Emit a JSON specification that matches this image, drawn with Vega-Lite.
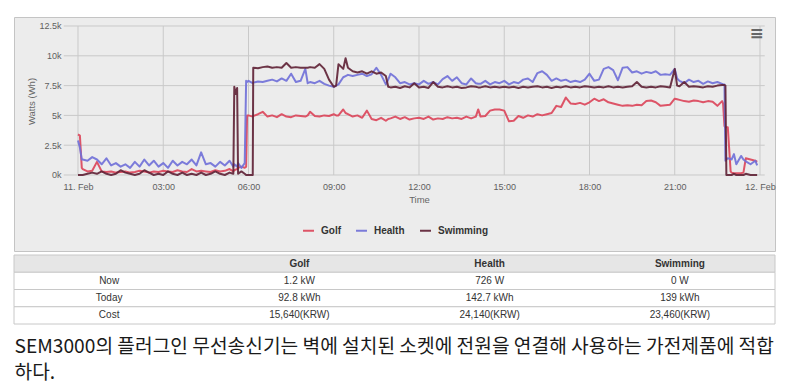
{
 "$schema": "https://vega.github.io/schema/vega-lite/v6.json",
 "background": "#ffffff",
 "padding": {"left": 13, "top": 16, "right": 14, "bottom": 2},
 "spacing": 2,
 "config": {"view": {"stroke": null}, "font": "Liberation Sans"},
 "title": {
  "text": ["SEM3000의 플러그인 무선송신기는 벽에 설치된 소켓에 전원을 연결해 사용하는 가전제품에 적합", "하다."],
  "orient": "bottom", "anchor": "start", "font": "Noto Sans CJK KR", "fontSize": 19.2, "fontWeight": "normal",
  "color": "#1a1a1a", "lineHeight": 26, "offset": 13, "dx": 1
 },
 "vconcat": [
  {
   "width": 761, "height": 234,
   "view": {"fill": "#ececec", "stroke": "#c4c4c4", "strokeWidth": 1},
   "layer": [
    {
     "data": {"values": [{"v": 0}, {"v": 2500}, {"v": 5000}, {"v": 7500}, {"v": 10000}, {"v": 12500}]},
     "mark": {"type": "rule", "color": "#c9c9c9", "strokeWidth": 1},
     "encoding": {
      "y": {"field": "v", "type": "quantitative",
       "scale": {"domain": [-6376, 13255], "nice": false, "zero": false},
       "axis": {"values": [0, 2500, 5000, 7500, 10000, 12500], "labelExpr": "datum.value / 1000 + 'k'",
        "grid": false, "domain": false, "ticks": false, "tickSize": 0, "offset": -47, "labelPadding": 0,
        "labelFontSize": 9, "labelColor": "#606060", "labelOverlap": false, "labelFlush": false,
        "title": "Watts (Wh)", "titleX": -30, "titleY": 84, "titleAngle": 270, "titleAlign": "center",
        "titleBaseline": "middle", "titleFontSize": 9.5, "titleFontWeight": "normal", "titleColor": "#666666"}},
      "x": {"datum": {"year": 2014, "month": "feb", "date": 10, "hours": 23, "minutes": 30}, "type": "temporal",
       "scale": {"domain": [{"year": 2014, "month": "feb", "date": 10, "hours": 21, "minutes": 44, "seconds": 52}, {"year": 2014, "month": "feb", "date": 12, "hours": 0, "minutes": 31, "seconds": 40}], "nice": false}},
      "x2": {"datum": {"year": 2014, "month": "feb", "date": 12, "hours": 0, "minutes": 10}}
     }
    },
    {
     "data": {"values": [{"t": "2014-02-11T00:00"}, {"t": "2014-02-11T03:00"}, {"t": "2014-02-11T06:00"}, {"t": "2014-02-11T09:00"}, {"t": "2014-02-11T12:00"}, {"t": "2014-02-11T15:00"}, {"t": "2014-02-11T18:00"}, {"t": "2014-02-11T21:00"}, {"t": "2014-02-12T00:00"}]},
     "mark": {"type": "rule", "color": "#c9c9c9", "strokeWidth": 1},
     "encoding": {
      "x": {"field": "t", "type": "temporal",
       "scale": {"domain": [{"year": 2014, "month": "feb", "date": 10, "hours": 21, "minutes": 44, "seconds": 52}, {"year": 2014, "month": "feb", "date": 12, "hours": 0, "minutes": 31, "seconds": 40}], "nice": false},
       "axis": {"values": [
         {"year": 2014, "month": "feb", "date": 11, "hours": 0}, {"year": 2014, "month": "feb", "date": 11, "hours": 3},
         {"year": 2014, "month": "feb", "date": 11, "hours": 6}, {"year": 2014, "month": "feb", "date": 11, "hours": 9},
         {"year": 2014, "month": "feb", "date": 11, "hours": 12}, {"year": 2014, "month": "feb", "date": 11, "hours": 15},
         {"year": 2014, "month": "feb", "date": 11, "hours": 18}, {"year": 2014, "month": "feb", "date": 11, "hours": 21},
         {"year": 2014, "month": "feb", "date": 12, "hours": 0}],
        "labelExpr": "hours(datum.value) == 0 ? timeFormat(datum.value, '%-d. %b') : timeFormat(datum.value, '%H:%M')",
        "grid": false, "domain": false, "ticks": false, "tickSize": 0, "offset": -76, "labelPadding": 7,
        "labelFontSize": 9, "labelColor": "#606060", "labelOverlap": false, "labelFlush": false,
        "title": "Time", "titleX": 405, "titleY": 24, "titleAlign": "center", "titleBaseline": "middle",
        "titleFontSize": 9.5, "titleFontWeight": "normal", "titleColor": "#666666"}},
      "y": {"datum": 0, "type": "quantitative", "scale": {"domain": [-6376, 13255], "nice": false, "zero": false}},
      "y2": {"datum": 12500}
     }
    },
    {
     "data": {"values": [
      {"t": "2014-02-11T00:00", "Golf": 3400, "Health": 2900, "Swimming": 0},
      {"t": "2014-02-11T00:04", "Golf": 3300, "Health": 2300, "Swimming": 0},
      {"t": "2014-02-11T00:08", "Golf": 600, "Health": 1300, "Swimming": 0},
      {"t": "2014-02-11T00:10", "Golf": 500, "Health": 1300, "Swimming": 0},
      {"t": "2014-02-11T00:20", "Golf": 300, "Health": 1200, "Swimming": 100},
      {"t": "2014-02-11T00:30", "Golf": 350, "Health": 1500, "Swimming": 200},
      {"t": "2014-02-11T00:40", "Golf": 1100, "Health": 1300, "Swimming": 100},
      {"t": "2014-02-11T00:50", "Golf": 300, "Health": 900, "Swimming": 300},
      {"t": "2014-02-11T01:00", "Golf": 250, "Health": 1400, "Swimming": 100},
      {"t": "2014-02-11T01:10", "Golf": 300, "Health": 800, "Swimming": 0},
      {"t": "2014-02-11T01:20", "Golf": 200, "Health": 1000, "Swimming": 100},
      {"t": "2014-02-11T01:30", "Golf": 250, "Health": 700, "Swimming": 400},
      {"t": "2014-02-11T01:40", "Golf": 300, "Health": 900, "Swimming": 200},
      {"t": "2014-02-11T01:50", "Golf": 200, "Health": 600, "Swimming": 100},
      {"t": "2014-02-11T02:00", "Golf": 250, "Health": 1100, "Swimming": 0},
      {"t": "2014-02-11T02:10", "Golf": 350, "Health": 700, "Swimming": 100},
      {"t": "2014-02-11T02:20", "Golf": 300, "Health": 1300, "Swimming": 400},
      {"t": "2014-02-11T02:30", "Golf": 200, "Health": 800, "Swimming": 200},
      {"t": "2014-02-11T02:40", "Golf": 300, "Health": 1200, "Swimming": 0},
      {"t": "2014-02-11T02:50", "Golf": 250, "Health": 700, "Swimming": 100},
      {"t": "2014-02-11T03:00", "Golf": 350, "Health": 1000, "Swimming": 0},
      {"t": "2014-02-11T03:10", "Golf": 300, "Health": 600, "Swimming": 300},
      {"t": "2014-02-11T03:20", "Golf": 250, "Health": 1200, "Swimming": 100},
      {"t": "2014-02-11T03:30", "Golf": 400, "Health": 800, "Swimming": 0},
      {"t": "2014-02-11T03:40", "Golf": 300, "Health": 1100, "Swimming": 200},
      {"t": "2014-02-11T03:50", "Golf": 250, "Health": 900, "Swimming": 0},
      {"t": "2014-02-11T04:00", "Golf": 500, "Health": 1300, "Swimming": 100},
      {"t": "2014-02-11T04:10", "Golf": 300, "Health": 800, "Swimming": 0},
      {"t": "2014-02-11T04:20", "Golf": 350, "Health": 1900, "Swimming": 200},
      {"t": "2014-02-11T04:30", "Golf": 300, "Health": 900, "Swimming": 0},
      {"t": "2014-02-11T04:40", "Golf": 250, "Health": 1000, "Swimming": 100},
      {"t": "2014-02-11T04:50", "Golf": 400, "Health": 700, "Swimming": 300},
      {"t": "2014-02-11T05:00", "Golf": 300, "Health": 1100, "Swimming": 100},
      {"t": "2014-02-11T05:10", "Golf": 350, "Health": 800, "Swimming": 0},
      {"t": "2014-02-11T05:20", "Golf": 500, "Health": 1200, "Swimming": 200},
      {"t": "2014-02-11T05:28", "Golf": 300, "Health": 700, "Swimming": 100},
      {"t": "2014-02-11T05:30", "Golf": 400, "Health": 900, "Swimming": 7400},
      {"t": "2014-02-11T05:33", "Golf": 450, "Health": 800, "Swimming": 6800},
      {"t": "2014-02-11T05:36", "Golf": 500, "Health": 700, "Swimming": 7300},
      {"t": "2014-02-11T05:38", "Golf": 600, "Health": 1000, "Swimming": 100},
      {"t": "2014-02-11T05:45", "Golf": 700, "Health": 600, "Swimming": 300},
      {"t": "2014-02-11T05:52", "Golf": 600, "Health": 1000, "Swimming": 100},
      {"t": "2014-02-11T05:55", "Golf": 700, "Health": 7900, "Swimming": 0},
      {"t": "2014-02-11T05:57", "Golf": 5000, "Health": 7800, "Swimming": 0},
      {"t": "2014-02-11T06:00", "Golf": 5000, "Health": 7900, "Swimming": 0},
      {"t": "2014-02-11T06:09", "Golf": 4900, "Health": 7700, "Swimming": 0},
      {"t": "2014-02-11T06:10", "Golf": 4950, "Health": 7750, "Swimming": 9000},
      {"t": "2014-02-11T06:20", "Golf": 5100, "Health": 7850, "Swimming": 8950},
      {"t": "2014-02-11T06:30", "Golf": 5300, "Health": 7800, "Swimming": 9050},
      {"t": "2014-02-11T06:40", "Golf": 4900, "Health": 7900, "Swimming": 9100},
      {"t": "2014-02-11T06:50", "Golf": 5000, "Health": 8000, "Swimming": 9000},
      {"t": "2014-02-11T07:00", "Golf": 4850, "Health": 7850, "Swimming": 9050},
      {"t": "2014-02-11T07:10", "Golf": 5100, "Health": 8100, "Swimming": 9000},
      {"t": "2014-02-11T07:20", "Golf": 4900, "Health": 7900, "Swimming": 9400},
      {"t": "2014-02-11T07:30", "Golf": 4850, "Health": 8500, "Swimming": 9000},
      {"t": "2014-02-11T07:40", "Golf": 5000, "Health": 7800, "Swimming": 9050},
      {"t": "2014-02-11T07:50", "Golf": 4950, "Health": 7900, "Swimming": 9000},
      {"t": "2014-02-11T08:00", "Golf": 4900, "Health": 8900, "Swimming": 9000},
      {"t": "2014-02-11T08:05", "Golf": 5000, "Health": 7700, "Swimming": 9000},
      {"t": "2014-02-11T08:10", "Golf": 5300, "Health": 7800, "Swimming": 9050},
      {"t": "2014-02-11T08:20", "Golf": 4950, "Health": 7700, "Swimming": 9000},
      {"t": "2014-02-11T08:30", "Golf": 4900, "Health": 7900, "Swimming": 9300},
      {"t": "2014-02-11T08:40", "Golf": 5000, "Health": 7650, "Swimming": 8900},
      {"t": "2014-02-11T08:50", "Golf": 4950, "Health": 7500, "Swimming": 8000},
      {"t": "2014-02-11T09:00", "Golf": 5100, "Health": 7400, "Swimming": 7400},
      {"t": "2014-02-11T09:05", "Golf": 5000, "Health": 7500, "Swimming": 7500},
      {"t": "2014-02-11T09:10", "Golf": 5000, "Health": 7600, "Swimming": 9300},
      {"t": "2014-02-11T09:20", "Golf": 5500, "Health": 8200, "Swimming": 8900},
      {"t": "2014-02-11T09:25", "Golf": 5200, "Health": 8300, "Swimming": 9800},
      {"t": "2014-02-11T09:30", "Golf": 5100, "Health": 8400, "Swimming": 9000},
      {"t": "2014-02-11T09:40", "Golf": 4900, "Health": 8300, "Swimming": 8700},
      {"t": "2014-02-11T09:50", "Golf": 5000, "Health": 8400, "Swimming": 8600},
      {"t": "2014-02-11T10:00", "Golf": 4800, "Health": 8500, "Swimming": 8700},
      {"t": "2014-02-11T10:10", "Golf": 5400, "Health": 8300, "Swimming": 8500},
      {"t": "2014-02-11T10:20", "Golf": 4700, "Health": 8450, "Swimming": 8700},
      {"t": "2014-02-11T10:30", "Golf": 4600, "Health": 9000, "Swimming": 8500},
      {"t": "2014-02-11T10:40", "Golf": 4800, "Health": 8400, "Swimming": 8600},
      {"t": "2014-02-11T10:50", "Golf": 4550, "Health": 7600, "Swimming": 8300},
      {"t": "2014-02-11T10:55", "Golf": 4700, "Health": 8000, "Swimming": 7400},
      {"t": "2014-02-11T11:00", "Golf": 4750, "Health": 8500, "Swimming": 7350},
      {"t": "2014-02-11T11:10", "Golf": 4900, "Health": 8200, "Swimming": 7400},
      {"t": "2014-02-11T11:20", "Golf": 4700, "Health": 7700, "Swimming": 7300},
      {"t": "2014-02-11T11:30", "Golf": 4850, "Health": 7800, "Swimming": 7450},
      {"t": "2014-02-11T11:40", "Golf": 4650, "Health": 7600, "Swimming": 7350},
      {"t": "2014-02-11T11:50", "Golf": 4750, "Health": 7700, "Swimming": 7700},
      {"t": "2014-02-11T12:00", "Golf": 4800, "Health": 7600, "Swimming": 7350},
      {"t": "2014-02-11T12:10", "Golf": 4700, "Health": 7900, "Swimming": 7400},
      {"t": "2014-02-11T12:20", "Golf": 4900, "Health": 7650, "Swimming": 7300},
      {"t": "2014-02-11T12:30", "Golf": 4650, "Health": 7800, "Swimming": 7800},
      {"t": "2014-02-11T12:40", "Golf": 4750, "Health": 7600, "Swimming": 7400},
      {"t": "2014-02-11T12:50", "Golf": 4700, "Health": 8050, "Swimming": 7350},
      {"t": "2014-02-11T13:00", "Golf": 4850, "Health": 8300, "Swimming": 7450},
      {"t": "2014-02-11T13:10", "Golf": 4750, "Health": 7900, "Swimming": 7350},
      {"t": "2014-02-11T13:20", "Golf": 4800, "Health": 8200, "Swimming": 7400},
      {"t": "2014-02-11T13:30", "Golf": 4700, "Health": 7700, "Swimming": 7300},
      {"t": "2014-02-11T13:40", "Golf": 4900, "Health": 7600, "Swimming": 7350},
      {"t": "2014-02-11T13:50", "Golf": 4750, "Health": 8100, "Swimming": 7450},
      {"t": "2014-02-11T14:00", "Golf": 4900, "Health": 7700, "Swimming": 7400},
      {"t": "2014-02-11T14:05", "Golf": 5500, "Health": 7650, "Swimming": 7350},
      {"t": "2014-02-11T14:10", "Golf": 4900, "Health": 7650, "Swimming": 7350},
      {"t": "2014-02-11T14:20", "Golf": 4950, "Health": 7900, "Swimming": 7450},
      {"t": "2014-02-11T14:30", "Golf": 5400, "Health": 7600, "Swimming": 7350},
      {"t": "2014-02-11T14:40", "Golf": 5500, "Health": 7800, "Swimming": 7400},
      {"t": "2014-02-11T14:50", "Golf": 5500, "Health": 7700, "Swimming": 7350},
      {"t": "2014-02-11T15:00", "Golf": 5400, "Health": 7900, "Swimming": 7400},
      {"t": "2014-02-11T15:10", "Golf": 4500, "Health": 7600, "Swimming": 7350},
      {"t": "2014-02-11T15:20", "Golf": 4550, "Health": 7800, "Swimming": 7400},
      {"t": "2014-02-11T15:30", "Golf": 4950, "Health": 7700, "Swimming": 7300},
      {"t": "2014-02-11T15:40", "Golf": 4800, "Health": 8000, "Swimming": 7400},
      {"t": "2014-02-11T15:50", "Golf": 5000, "Health": 8100, "Swimming": 7350},
      {"t": "2014-02-11T16:00", "Golf": 4900, "Health": 7800, "Swimming": 7400},
      {"t": "2014-02-11T16:10", "Golf": 5100, "Health": 8550, "Swimming": 7450},
      {"t": "2014-02-11T16:20", "Golf": 5000, "Health": 8700, "Swimming": 7350},
      {"t": "2014-02-11T16:30", "Golf": 5100, "Health": 8400, "Swimming": 7400},
      {"t": "2014-02-11T16:40", "Golf": 5200, "Health": 7900, "Swimming": 7300},
      {"t": "2014-02-11T16:50", "Golf": 5800, "Health": 8100, "Swimming": 7400},
      {"t": "2014-02-11T17:00", "Golf": 5700, "Health": 7900, "Swimming": 7350},
      {"t": "2014-02-11T17:10", "Golf": 6500, "Health": 8000, "Swimming": 7450},
      {"t": "2014-02-11T17:20", "Golf": 6000, "Health": 7800, "Swimming": 7350},
      {"t": "2014-02-11T17:30", "Golf": 5950, "Health": 7900, "Swimming": 7400},
      {"t": "2014-02-11T17:40", "Golf": 6050, "Health": 7800, "Swimming": 7350},
      {"t": "2014-02-11T17:50", "Golf": 5900, "Health": 8000, "Swimming": 7450},
      {"t": "2014-02-11T18:00", "Golf": 6100, "Health": 8500, "Swimming": 7400},
      {"t": "2014-02-11T18:10", "Golf": 6400, "Health": 7900, "Swimming": 7350},
      {"t": "2014-02-11T18:20", "Golf": 6200, "Health": 8000, "Swimming": 7400},
      {"t": "2014-02-11T18:30", "Golf": 6350, "Health": 8900, "Swimming": 7350},
      {"t": "2014-02-11T18:40", "Golf": 6100, "Health": 9050, "Swimming": 7450},
      {"t": "2014-02-11T18:50", "Golf": 6000, "Health": 8800, "Swimming": 7350},
      {"t": "2014-02-11T19:00", "Golf": 5900, "Health": 7950, "Swimming": 7400},
      {"t": "2014-02-11T19:10", "Golf": 5800, "Health": 9000, "Swimming": 7350},
      {"t": "2014-02-11T19:20", "Golf": 5850, "Health": 9050, "Swimming": 7400},
      {"t": "2014-02-11T19:30", "Golf": 5800, "Health": 8600, "Swimming": 7450},
      {"t": "2014-02-11T19:40", "Golf": 5900, "Health": 8700, "Swimming": 7800},
      {"t": "2014-02-11T19:50", "Golf": 5850, "Health": 8500, "Swimming": 7400},
      {"t": "2014-02-11T20:00", "Golf": 6200, "Health": 8650, "Swimming": 7350},
      {"t": "2014-02-11T20:10", "Golf": 6250, "Health": 8550, "Swimming": 7400},
      {"t": "2014-02-11T20:20", "Golf": 6100, "Health": 8700, "Swimming": 7350},
      {"t": "2014-02-11T20:30", "Golf": 5800, "Health": 8400, "Swimming": 7450},
      {"t": "2014-02-11T20:40", "Golf": 5850, "Health": 8450, "Swimming": 7400},
      {"t": "2014-02-11T20:50", "Golf": 5900, "Health": 8400, "Swimming": 7350},
      {"t": "2014-02-11T21:00", "Golf": 6400, "Health": 8900, "Swimming": 8900},
      {"t": "2014-02-11T21:05", "Golf": 6350, "Health": 8100, "Swimming": 7500},
      {"t": "2014-02-11T21:10", "Golf": 6300, "Health": 7900, "Swimming": 7450},
      {"t": "2014-02-11T21:20", "Golf": 6200, "Health": 7700, "Swimming": 7800},
      {"t": "2014-02-11T21:30", "Golf": 6150, "Health": 8000, "Swimming": 7400},
      {"t": "2014-02-11T21:40", "Golf": 6250, "Health": 7800, "Swimming": 7450},
      {"t": "2014-02-11T21:50", "Golf": 6200, "Health": 7900, "Swimming": 7400},
      {"t": "2014-02-11T22:00", "Golf": 6100, "Health": 7650, "Swimming": 7350},
      {"t": "2014-02-11T22:10", "Golf": 6200, "Health": 7850, "Swimming": 7450},
      {"t": "2014-02-11T22:20", "Golf": 6150, "Health": 7700, "Swimming": 7400},
      {"t": "2014-02-11T22:30", "Golf": 5800, "Health": 7800, "Swimming": 7500},
      {"t": "2014-02-11T22:40", "Golf": 6200, "Health": 7650, "Swimming": 7550},
      {"t": "2014-02-11T22:42", "Golf": 6000, "Health": 7600, "Swimming": 7550},
      {"t": "2014-02-11T22:45", "Golf": 4100, "Health": 7600, "Swimming": 7550},
      {"t": "2014-02-11T22:47", "Golf": 4000, "Health": 1200, "Swimming": 7500},
      {"t": "2014-02-11T22:49", "Golf": 4000, "Health": 1300, "Swimming": 0},
      {"t": "2014-02-11T22:52", "Golf": 4000, "Health": 1400, "Swimming": 0},
      {"t": "2014-02-11T22:58", "Golf": 300, "Health": 1350, "Swimming": 0},
      {"t": "2014-02-11T23:00", "Golf": 200, "Health": 1300, "Swimming": 0},
      {"t": "2014-02-11T23:05", "Golf": 150, "Health": 1750, "Swimming": 100},
      {"t": "2014-02-11T23:10", "Golf": 150, "Health": 900, "Swimming": 0},
      {"t": "2014-02-11T23:20", "Golf": 150, "Health": 1600, "Swimming": 0},
      {"t": "2014-02-11T23:25", "Golf": 200, "Health": 1300, "Swimming": 0},
      {"t": "2014-02-11T23:30", "Golf": 1400, "Health": 1150, "Swimming": 100},
      {"t": "2014-02-11T23:40", "Golf": 1300, "Health": 900, "Swimming": 0},
      {"t": "2014-02-11T23:50", "Golf": 1200, "Health": 1200, "Swimming": 0},
      {"t": "2014-02-11T23:54", "Golf": 1100, "Health": 800, "Swimming": 0}
     ]},
     "transform": [{"fold": ["Golf", "Health", "Swimming"], "as": ["series", "watts"]}],
     "mark": {"type": "line", "strokeWidth": 2, "strokeJoin": "round", "opacity": 0.9},
     "encoding": {
      "x": {"field": "t", "type": "temporal",
       "scale": {"domain": [{"year": 2014, "month": "feb", "date": 10, "hours": 21, "minutes": 44, "seconds": 52}, {"year": 2014, "month": "feb", "date": 12, "hours": 0, "minutes": 31, "seconds": 40}], "nice": false}},
      "y": {"field": "watts", "type": "quantitative", "scale": {"domain": [-6376, 13255], "nice": false, "zero": false}},
      "color": {"field": "series", "type": "nominal",
       "scale": {"domain": ["Golf", "Health", "Swimming"], "range": ["#dc4459", "#6f6fd8", "#5e2034"]},
       "legend": {"title": null, "orient": "none", "legendX": 288, "legendY": 207, "direction": "horizontal",
        "symbolType": "stroke", "symbolSize": 120, "symbolStrokeWidth": 2, "labelFontSize": 10,
        "labelFontWeight": "bold", "labelColor": "#333333", "labelOffset": 6, "columnPadding": 11}}
     }
    },
    {
     "data": {"values": [{"icon": "≡"}]},
     "mark": {"type": "text", "fontSize": 17, "fontWeight": "bold", "color": "#666666", "font": "DejaVu Sans"},
     "encoding": {
      "x": {"datum": {"year": 2014, "month": "feb", "date": 11, "hours": 23, "minutes": 53}, "type": "temporal"},
      "y": {"datum": 11830, "type": "quantitative"},
      "text": {"field": "icon"}
     }
    }
   ]
  },
  {
   "width": 761, "height": 69,
   "layer": [
    {
     "data": {"values": [{"r": "hdr"}, {"r": "Now"}, {"r": "Today"}, {"r": "Cost"}]},
     "mark": {"type": "rect", "stroke": "#c8c8c8", "strokeWidth": 1},
     "encoding": {
      "y": {"field": "r", "type": "nominal", "scale": {"domain": ["hdr", "Now", "Today", "Cost"], "paddingInner": 0, "paddingOuter": 0}, "axis": null},
      "fill": {"condition": {"test": "datum.r === 'hdr'", "value": "#e6e6e6"}, "value": "#ffffff"}
     }
    },
    {
     "data": {"values": [
      {"r": "hdr", "c": "Golf", "txt": "Golf"}, {"r": "hdr", "c": "Health", "txt": "Health"}, {"r": "hdr", "c": "Swimming", "txt": "Swimming"}
     ]},
     "mark": {"type": "text", "fontSize": 10, "fontWeight": "bold", "color": "#333333"},
     "encoding": {
      "x": {"field": "c", "type": "nominal", "scale": {"domain": ["lab", "Golf", "Health", "Swimming"], "paddingInner": 0, "paddingOuter": 0}, "axis": null},
      "y": {"field": "r", "type": "nominal", "axis": null},
      "text": {"field": "txt"}
     }
    },
    {
     "data": {"values": [
      {"r": "Now", "c": "lab", "txt": "Now"}, {"r": "Now", "c": "Golf", "txt": "1.2 kW"}, {"r": "Now", "c": "Health", "txt": "726 W"}, {"r": "Now", "c": "Swimming", "txt": "0 W"},
      {"r": "Today", "c": "lab", "txt": "Today"}, {"r": "Today", "c": "Golf", "txt": "92.8 kWh"}, {"r": "Today", "c": "Health", "txt": "142.7 kWh"}, {"r": "Today", "c": "Swimming", "txt": "139 kWh"},
      {"r": "Cost", "c": "lab", "txt": "Cost"}, {"r": "Cost", "c": "Golf", "txt": "15,640(KRW)"}, {"r": "Cost", "c": "Health", "txt": "24,140(KRW)"}, {"r": "Cost", "c": "Swimming", "txt": "23,460(KRW)"}
     ]},
     "mark": {"type": "text", "fontSize": 10, "color": "#333333"},
     "encoding": {
      "x": {"field": "c", "type": "nominal", "axis": null},
      "y": {"field": "r", "type": "nominal", "axis": null},
      "text": {"field": "txt"}
     }
    }
   ]
  }
 ]
}
